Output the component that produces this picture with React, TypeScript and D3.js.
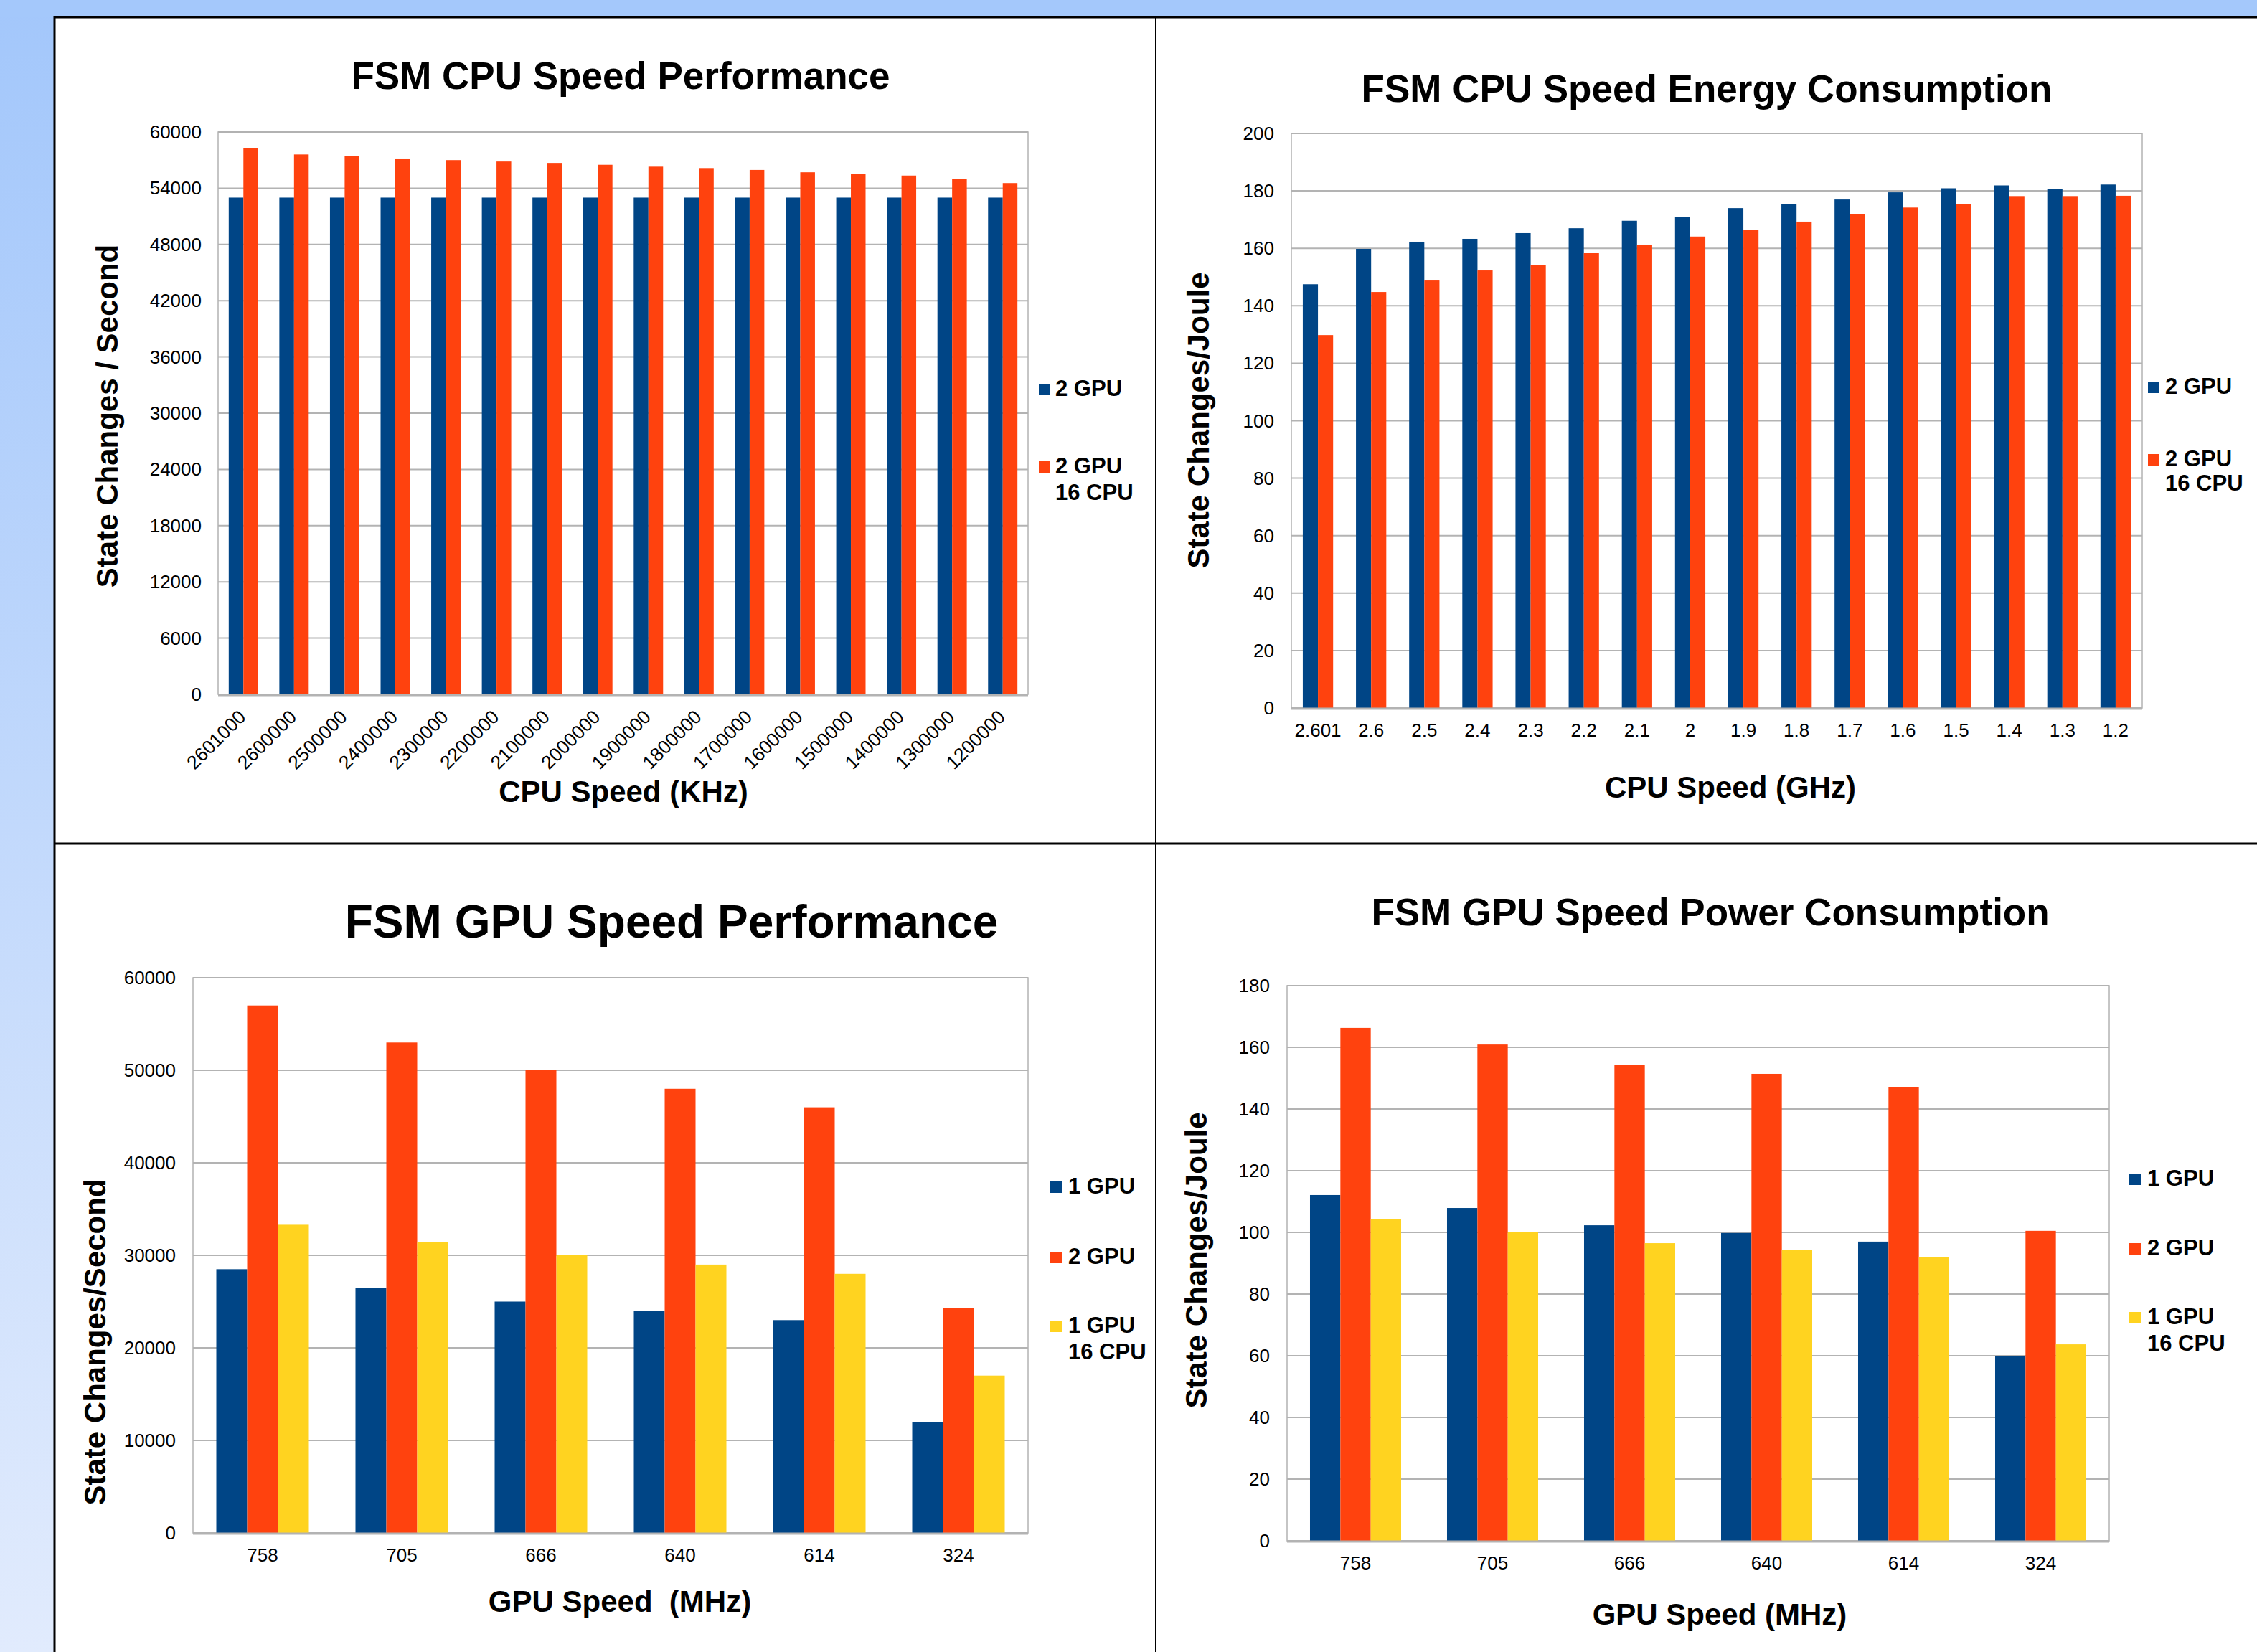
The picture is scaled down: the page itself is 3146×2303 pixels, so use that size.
import React from "react";
import * as d3 from "d3";

// ---------- DATA ----------
const cpuKhz = ["2601000","2600000","2500000","2400000","2300000","2200000","2100000","2000000","1900000","1800000","1700000","1600000","1500000","1400000","1300000","1200000"];
const perf2Gpu = [53000,53000,53000,53000,53000,53000,53000,53000,53000,53000,53000,53000,53000,53000,53000,53000];
const perf2Gpu16Cpu = [58300,57600,57450,57170,57000,56850,56700,56500,56300,56150,55950,55700,55500,55350,55000,54550];
const perfCpuTicks = [0,6000,12000,18000,24000,30000,36000,42000,48000,54000,60000];

const cpuGhz = ["2.601","2.6","2.5","2.4","2.3","2.2","2.1","2","1.9","1.8","1.7","1.6","1.5","1.4","1.3","1.2"];
const energy2Gpu = [147.5,159.8,162.3,163.3,165.3,167,169.6,171,174,175.3,177,179.5,180.9,181.9,180.7,182.2];
const energy2Gpu16Cpu = [129.8,144.8,148.8,152.3,154.3,158.3,161.3,164.1,166.3,169.3,171.8,174.2,175.5,178.2,178.2,178.3];
const energyTicks = [0,20,40,60,80,100,120,140,160,180,200];

const gpuMhz = ["758","705","666","640","614","324"];
const gpuPerf1Gpu = [28500,26500,25000,24000,23000,12000];
const gpuPerf2Gpu = [57000,53000,50000,48000,46000,24300];
const gpuPerf1Gpu16Cpu = [33300,31400,30000,29000,28000,17000];
const gpuPerfTicks = [0,10000,20000,30000,40000,50000,60000];

const power1Gpu = [112.1,107.9,102.3,99.8,97.0,59.8];
const power2Gpu = [166.3,160.9,154.2,151.4,147.2,100.5];
const power1Gpu16Cpu = [104.2,100.2,96.5,94.2,91.9,63.7];
const powerTicks = [0,20,40,60,80,100,120,140,160,180];

// ---------- STYLE ----------
const BLUE = "#004586";
const ORANGE = "#ff420e";
const YELLOW = "#ffd320";
const GRID = "#b3b3b3";
const FONT = "'Liberation Sans', Arial, sans-serif";

type Series = { name: string[]; color: string; values: number[] };

type PanelCfg = {
  title: string; titleX: number; titleY: number; titleSize: number;
  categories: string[]; series: Series[]; ticks: number[];
  plot: { l: number; t: number; r: number; b: number };
  padding: number;
  yTickX: number;
  xLabelY: number; rotate: boolean; xLabelDx: number; xLabelSize: number;
  xTitle: string; xTitleX: number; xTitleY: number;
  yTitle: string; yTitleX: number; yTitleY: number;
  legend: { sqX: number; textX: number; baselines: number[] };
};

function Panel({ c }: { c: PanelCfg }) {
  const { l, t, r, b } = c.plot;
  const x0 = d3.scaleBand<string>().domain(c.categories).range([l, r])
    .paddingInner(c.padding).paddingOuter(c.padding / 2);
  const x1 = d3.scaleBand<number>().domain(c.series.map((_, i) => i)).range([0, x0.bandwidth()]);
  const y = d3.scaleLinear().domain([0, c.ticks[c.ticks.length - 1]]).range([b, t]);
  let legendLine = 0;
  return (
    <g fontFamily={FONT}>
      <text x={c.titleX} y={c.titleY} textAnchor="middle" fontWeight="bold" fontSize={c.titleSize}>{c.title}</text>
      {c.ticks.map((tk) => (
        <line key={"g" + tk} x1={l} x2={r} y1={y(tk)} y2={y(tk)} stroke={GRID} strokeWidth={2} />
      ))}
      <rect x={l} y={t} width={r - l} height={b - t} fill="none" stroke={GRID} strokeWidth={1.5} />
      {c.categories.map((cat, ci) => (
        <g key={cat}>
          {c.series.map((s, si) => (
            <rect key={si} x={(x0(cat) as number) + (x1(si) as number)} y={y(s.values[ci])}
              width={x1.bandwidth()} height={b - y(s.values[ci])} fill={s.color} />
          ))}
        </g>
      ))}
      <line x1={l} x2={r} y1={b + 1} y2={b + 1} stroke={GRID} strokeWidth={3} />
      {c.ticks.map((tk) => (
        <text key={"t" + tk} x={c.yTickX} y={y(tk) + 9} textAnchor="end" fontSize={26}>{tk}</text>
      ))}
      {c.categories.map((cat) => {
        const cx = (x0(cat) as number) + x0.bandwidth() / 2;
        return c.rotate ? (
          <text key={"x" + cat} transform={`translate(${cx + c.xLabelDx},${c.xLabelY}) rotate(-45)`}
            textAnchor="end" fontSize={c.xLabelSize}>{cat}</text>
        ) : (
          <text key={"x" + cat} x={cx} y={c.xLabelY} textAnchor="middle" fontSize={c.xLabelSize}>{cat}</text>
        );
      })}
      <text x={c.xTitleX} y={c.xTitleY} textAnchor="middle" fontWeight="bold" fontSize={42}
        style={{ whiteSpace: "pre" }}>{c.xTitle}</text>
      <text transform={`translate(${c.yTitleX},${c.yTitleY}) rotate(-90)`} textAnchor="middle"
        fontWeight="bold" fontSize={42}>{c.yTitle}</text>
      {c.series.map((s, si) => {
        const base = c.legend.baselines[legendLine];
        const lines = s.name.map((ln, li) => {
          const by = c.legend.baselines[legendLine + li];
          return <text key={li} x={c.legend.textX} y={by} fontWeight="bold" fontSize={31}>{ln}</text>;
        });
        legendLine += s.name.length;
        return (
          <g key={"l" + si}>
            <rect x={c.legend.sqX} y={base - 17} width={16} height={16} fill={s.color} />
            {lines}
          </g>
        );
      })}
    </g>
  );
}

const panels: PanelCfg[] = [
  {
    title: "FSM CPU Speed Performance", titleX: 865, titleY: 124, titleSize: 53,
    categories: cpuKhz,
    series: [
      { name: ["2 GPU"], color: BLUE, values: perf2Gpu },
      { name: ["2 GPU", "16 CPU"], color: ORANGE, values: perf2Gpu16Cpu },
    ],
    ticks: perfCpuTicks,
    plot: { l: 304, t: 184, r: 1433, b: 968 },
    padding: 0.42, yTickX: 281,
    xLabelY: 1001, rotate: true, xLabelDx: 5, xLabelSize: 26.5,
    xTitle: "CPU Speed (KHz)", xTitleX: 869, xTitleY: 1118,
    yTitle: "State Changes / Second", yTitleX: 164, yTitleY: 580,
    legend: { sqX: 1448, textX: 1471, baselines: [552, 660, 697] },
  },
  {
    title: "FSM CPU Speed Energy Consumption", titleX: 2379, titleY: 142, titleSize: 53,
    categories: cpuGhz,
    series: [
      { name: ["2 GPU"], color: BLUE, values: energy2Gpu },
      { name: ["2 GPU", "16 CPU"], color: ORANGE, values: energy2Gpu16Cpu },
    ],
    ticks: energyTicks,
    plot: { l: 1800, t: 186, r: 2986, b: 987 },
    padding: 0.43, yTickX: 1776,
    xLabelY: 1027, rotate: false, xLabelDx: 0, xLabelSize: 26,
    xTitle: "CPU Speed (GHz)", xTitleX: 2412, xTitleY: 1112,
    yTitle: "State Changes/Joule", yTitleX: 1685, yTitleY: 586,
    legend: { sqX: 2994, textX: 3018, baselines: [549, 650, 684] },
  },
  {
    title: "FSM GPU Speed Performance", titleX: 936, titleY: 1307, titleSize: 64,
    categories: gpuMhz,
    series: [
      { name: ["1 GPU"], color: BLUE, values: gpuPerf1Gpu },
      { name: ["2 GPU"], color: ORANGE, values: gpuPerf2Gpu },
      { name: ["1 GPU", "16 CPU"], color: YELLOW, values: gpuPerf1Gpu16Cpu },
    ],
    ticks: gpuPerfTicks,
    plot: { l: 269, t: 1363, r: 1433, b: 2137 },
    padding: 0.335, yTickX: 245,
    xLabelY: 2177, rotate: false, xLabelDx: 0, xLabelSize: 26,
    xTitle: "GPU Speed  (MHz)", xTitleX: 864, xTitleY: 2247,
    yTitle: "State Changes/Second", yTitleX: 147, yTitleY: 1871,
    legend: { sqX: 1464, textX: 1489, baselines: [1664, 1762, 1858, 1895] },
  },
  {
    title: "FSM GPU Speed Power Consumption", titleX: 2384, titleY: 1290, titleSize: 53,
    categories: gpuMhz,
    series: [
      { name: ["1 GPU"], color: BLUE, values: power1Gpu },
      { name: ["2 GPU"], color: ORANGE, values: power2Gpu },
      { name: ["1 GPU", "16 CPU"], color: YELLOW, values: power1Gpu16Cpu },
    ],
    ticks: powerTicks,
    plot: { l: 1794, t: 1374, r: 2940, b: 2148 },
    padding: 0.335, yTickX: 1770,
    xLabelY: 2188, rotate: false, xLabelDx: 0, xLabelSize: 26,
    xTitle: "GPU Speed (MHz)", xTitleX: 2397, xTitleY: 2265,
    yTitle: "State Changes/Joule", yTitleX: 1682, yTitleY: 1757,
    legend: { sqX: 2968, textX: 2993, baselines: [1653, 1750, 1846, 1883] },
  },
];

export default function App() {
  const W = 3146, H = 2303;
  return (
    <svg width={W} height={H} style={{ position: "absolute", left: 0, top: 0, display: "block" }}>
      <defs>
        <linearGradient id="bg" x1="0" y1="0" x2="0" y2="1">
          <stop offset="0" stopColor="#a3c7fb" />
          <stop offset="1" stopColor="#e1ebfd" />
        </linearGradient>
      </defs>
      <rect x={0} y={0} width={W} height={H} fill="url(#bg)" />
      <rect x={0} y={0} width={W} height={24} fill="#a4c8fb" />
      <rect x={76} y={24} width={W - 76} height={H - 24} fill="#ffffff" />
      <line x1={75} x2={W} y1={24} y2={24} stroke="#000" strokeWidth={3} />
      <line x1={76} x2={76} y1={23} y2={H} stroke="#000" strokeWidth={3} />
      <line x1={76} x2={W} y1={1176} y2={1176} stroke="#000" strokeWidth={3} />
      <line x1={1611} x2={1611} y1={24} y2={H} stroke="#000" strokeWidth={2} />
      {panels.map((p, i) => <Panel key={i} c={p} />)}
    </svg>
  );
}
